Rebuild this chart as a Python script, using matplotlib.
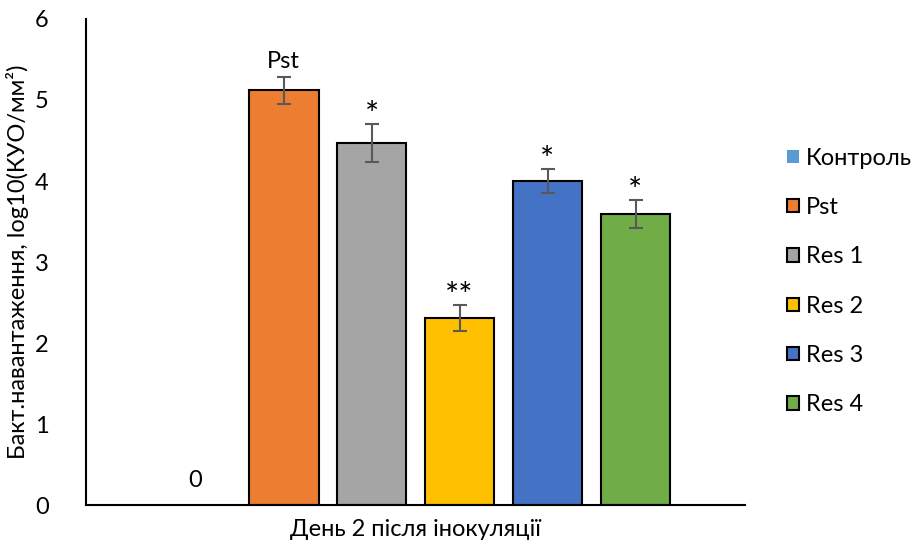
import matplotlib
matplotlib.use("Agg")
import matplotlib.pyplot as plt
from matplotlib.patches import Patch

plt.rcParams['font.family'] = ['Lato', 'DejaVu Sans']

# Data
series = ["Контроль", "Pst", "Res 1", "Res 2", "Res 3", "Res 4"]
values = [0.0, 5.12, 4.47, 2.31, 4.00, 3.59]
errors = [0.0, 0.17, 0.23, 0.16, 0.15, 0.17]
marks = ["0", "Pst", "*", "**", "*", "*"]
colors = ["#5B9BD5", "#ED7D31", "#A5A5A5", "#FFC000", "#4472C4", "#70AD47"]
category = "День 2 після інокуляції"
ylabel = "Бакт.навантаження, log10(КУО/мм²)"

FS = 17

fig = plt.figure(figsize=(9.21, 5.52), dpi=100)
ax = fig.add_axes([0.0934, 0.0851, 0.809 - 0.0934, 0.9656 - 0.0851])

step = 0.1335
width = 0.106
n = len(series)
for i, (v, e, c) in enumerate(zip(values, errors, colors)):
    x = (i - (n - 1) / 2) * step
    if v > 0:
        ax.bar(x, v, width=width, color=c, edgecolor="black", linewidth=1.5, zorder=2)
        ax.errorbar(x, v, yerr=e, fmt="none", ecolor="#595959", elinewidth=1.5,
                    capsize=5, capthick=1.5, zorder=3)
    top = v + e
    star = marks[i].startswith("*")
    ax.annotate(marks[i], (x, top),
                xytext=(0, -5 if star else (3 if v > 0 else 10)),
                textcoords="offset points", ha="center", va="bottom",
                fontsize=24 if star else FS, color="black")

ax.set_xlim(-0.5, 0.5)
ax.set_ylim(0, 6)
ax.set_yticks(range(0, 7))
ax.set_xticks([])
ax.set_xlabel(category, fontsize=FS, labelpad=10)
ax.set_ylabel(ylabel, fontsize=17)
ax.yaxis.set_label_coords(-0.086, 0.5)
ax.tick_params(axis="y", length=0, pad=27, labelsize=FS)
for s in ["top", "right"]:
    ax.spines[s].set_visible(False)
for s in ["left", "bottom"]:
    ax.spines[s].set_linewidth(1.5)
    ax.spines[s].set_color("black")

handles = []
for i, (name, c) in enumerate(zip(series, colors)):
    handles.append(Patch(facecolor=c, edgecolor="none" if i == 0 else "black",
                         linewidth=1.5, label=name))
fig.legend(handles=handles, loc="center left", bbox_to_anchor=(0.842, 0.49),
           frameon=False, fontsize=FS, handlelength=0.5, handleheight=0.5,
           handletextpad=0.3, labelspacing=1.2, borderpad=0)

fig.savefig("out.png", dpi=100)
